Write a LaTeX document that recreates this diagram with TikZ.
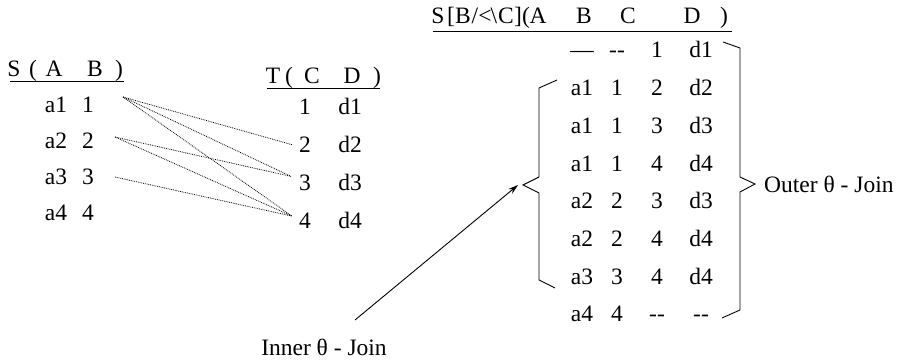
\documentclass[tikz,border=0pt]{standalone}
\usepackage{fontspec}
\setmainfont{Liberation Serif}
\usetikzlibrary{arrows.meta}
\begin{document}
\begin{tikzpicture}[x=1pt,y=-1pt,
  cell/.style={inner sep=0pt,anchor=base,font=\fontsize{23.5}{28}\selectfont},
  dotline/.style={line width=0.8pt,densely dotted},
  brace/.style={line width=0.9pt},
  rule/.style={line width=1pt},
  pointer/.style={line width=0.9pt,-{Stealth[length=10pt,width=6pt]}}]
\useasboundingbox (0,0) rectangle (904,363);

% ---- S table
\node[cell] (sS) at (14,77) {S};
\node[cell] (sLp) at (33,77) {(};
\node[cell] (sA) at (54,77) {A};
\node[cell] (sB) at (95,77) {B};
\node[cell] (sRp) at (119,77) {)};
\draw[rule] (10,82) -- (124,82);
\foreach \a/\b [count=\i] in {a1/1,a2/2,a3/3,a4/4} {
  \node[cell] (sa\i) at (56,{113+36*(\i-1)}) {\a};
  \node[cell] (sb\i) at (88,{113+36*(\i-1)}) {\b};
}

% ---- T table
\node[cell] (tT) at (273,84) {T};
\node[cell] (tLp) at (289,84) {(};
\node[cell] (tC) at (312,84) {C};
\node[cell] (tD) at (352,84) {D};
\node[cell] (tRp) at (377,84) {)};
\draw[rule] (267,89) -- (380,89);
\foreach \c/\d [count=\i] in {1/d1,2/d2,3/d3,4/d4} {
  \node[cell] (tc\i) at (305,{115+37.7*(\i-1)}) {\c};
  \node[cell] (td\i) at (350,{115+37.7*(\i-1)}) {\d};
}

% ---- dotted join lines
\draw[dotline] ([shift={(35,-16)}]sb1.base) -- ([shift={(-13,-8)}]tc2.base);
\draw[dotline] ([shift={(35,-16)}]sb1.base) -- ([shift={(-14,-14)}]tc3.base);
\draw[dotline] ([shift={(35,-16)}]sb1.base) -- ([shift={(-13,-12)}]tc4.base);
\draw[dotline] ([shift={(27,-12)}]sb2.base) -- ([shift={(-14,-14)}]tc3.base);
\draw[dotline] ([shift={(27,-12)}]sb2.base) -- ([shift={(-13,-12)}]tc4.base);
\draw[dotline] ([shift={(27,-8)}]sb3.base) -- ([shift={(-13,-12)}]tc4.base);

% ---- result table header
\foreach \ch/\x [count=\i] in {S/438,{[}/451,B/463,{/}/475,{<}/485,{\textbackslash}/494,C/506,{]}/518,{(}/526,A/538} {
  \node[cell] (rh\i) at (\x,24) {\ch};
}
\node[cell] (rB) at (584,24) {B};
\node[cell] (rC) at (628,24) {C};
\node[cell] (rD) at (692,24) {D};
\node[cell] (rRp) at (724,24) {)};
\draw[rule] (433,32) -- (732,32);

% ---- result rows
\foreach \a/\b/\c/\d [count=\i from 0] in
  {{—}/{-{}-}/1/d1, a1/1/2/d2, a1/1/3/d3, a1/1/4/d4,
   a2/2/3/d3, a2/2/4/d4, a3/3/4/d4, a4/4/{-{}-}/{-{}-}} {
  \node[cell] (ra\i) at (582,{58+37.7*\i}) {\a};
  \node[cell] (rb\i) at (617,{58+37.7*\i}) {\b};
  \node[cell] (rc\i) at (657,{58+37.7*\i}) {\c};
  \node[cell] (rd\i) at (701,{58+37.7*\i}) {\d};
}

% ---- braces
\draw[brace] (557,80) -- (539,88) -- (539,177) -- (523,185) -- (539,193) -- (539,280) -- (555,288);
\draw[brace] (723,42) -- (740,48) -- (740,177) -- (755,184) -- (740,192) -- (740,310) -- (722,318);

% ---- labels
\node[cell,anchor=base west] (outer) at (764,193) {Outer θ - Join};
\node[cell] (inner) at (324,355) {Inner θ - Join};
\coordinate (foot) at (355,320);
\coordinate (tip) at (518,185);
\draw[pointer] (foot) -- (tip);
\end{tikzpicture}
\end{document}
